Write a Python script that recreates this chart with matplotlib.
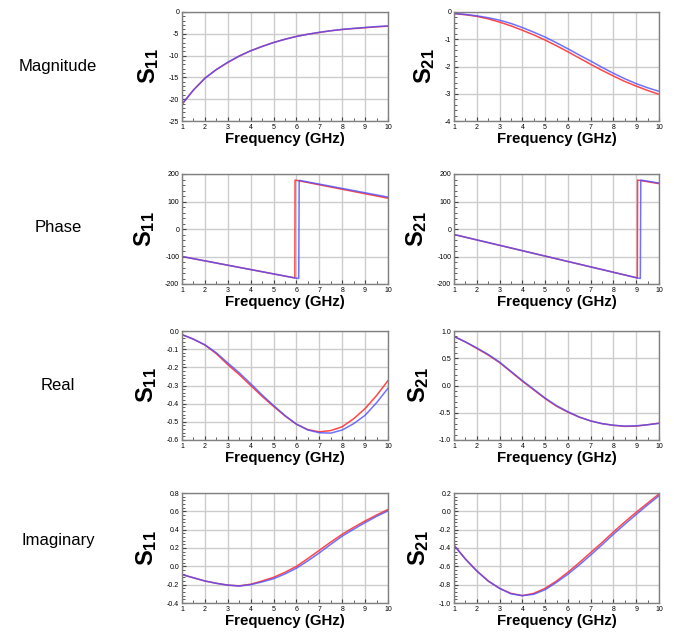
# S-parameters of a line: measured (red) vs model (blue), 4 rows x 2 columns

import numpy as np
import matplotlib.pyplot as plt
from matplotlib.ticker import MultipleLocator, AutoMinorLocator

plt.rcParams['font.family'] = ['Liberation Sans', 'DejaVu Sans']
plt.rcParams['mathtext.fontset'] = 'custom'
plt.rcParams['mathtext.rm'] = 'Liberation Sans'
plt.rcParams['mathtext.bf'] = 'Liberation Sans:bold'
plt.rcParams['axes.unicode_minus'] = False

# frequency grid for the smooth curves (GHz)
freq = [1.0, 1.5, 2.0, 2.5, 3.0, 3.5, 4.0, 4.5, 5.0, 5.5,
        6.0, 6.5, 7.0, 7.5, 8.0, 8.5, 9.0, 9.5, 10.0]

# magnitude (dB)
mag_s11_red = [-21.2, -17.9, -15.2, -13.2, -11.6, -10.1, -8.9, -7.9, -7.0, -6.25,
               -5.6, -5.1, -4.7, -4.3, -4.0, -3.8, -3.6, -3.4, -3.25]
mag_s11_blue = [-21.1, -17.9, -15.2, -13.2, -11.5, -10.1, -8.9, -7.9, -7.0, -6.25,
                -5.6, -5.1, -4.65, -4.3, -4.0, -3.75, -3.55, -3.35, -3.2]
mag_s21_red = [-0.06, -0.1, -0.16, -0.25, -0.37, -0.51, -0.67, -0.84, -1.03, -1.24,
               -1.46, -1.69, -1.92, -2.14, -2.35, -2.55, -2.72, -2.88, -3.02]
mag_s21_blue = [-0.05, -0.09, -0.14, -0.21, -0.3, -0.42, -0.57, -0.74, -0.92, -1.13,
                -1.35, -1.58, -1.8, -2.03, -2.25, -2.45, -2.63, -2.78, -2.91]

# phase (deg), straight segments with a wrap
ph_s11_red_f = [1.0, 5.93, 5.94, 10.0]
ph_s11_red = [-100, -178, 178, 112]
ph_s11_blue_f = [1.0, 5.93, 6.1, 6.12, 10.0]
ph_s11_blue = [-100, -178, -180, 177, 116]
ph_s21_red_f = [1.0, 9.05, 9.06, 10.0]
ph_s21_red = [-20, -178, 178, 165]
ph_s21_blue_f = [1.0, 9.05, 9.18, 9.2, 10.0]
ph_s21_blue = [-20, -178, -180, 178, 167]

# real part
re_s11_red = [-0.02, -0.045, -0.077, -0.125, -0.185, -0.24, -0.30, -0.36, -0.415, -0.468,
              -0.513, -0.543, -0.555, -0.548, -0.527, -0.483, -0.427, -0.355, -0.273]
re_s11_blue = [-0.02, -0.045, -0.076, -0.12, -0.176, -0.23, -0.29, -0.352, -0.41, -0.465,
               -0.513, -0.545, -0.56, -0.562, -0.545, -0.51, -0.464, -0.395, -0.315]
re_s21_red = [0.90, 0.80, 0.68, 0.56, 0.42, 0.25, 0.08, -0.08, -0.24, -0.38,
              -0.49, -0.58, -0.65, -0.70, -0.73, -0.75, -0.745, -0.72, -0.69]
re_s21_blue = [0.90, 0.80, 0.69, 0.57, 0.43, 0.26, 0.09, -0.07, -0.23, -0.37,
               -0.48, -0.58, -0.65, -0.70, -0.73, -0.745, -0.74, -0.72, -0.695]

# imaginary part
im_s11_red = [-0.09, -0.125, -0.16, -0.185, -0.205, -0.213, -0.195, -0.16, -0.12, -0.065,
              0.0, 0.085, 0.175, 0.265, 0.35, 0.425, 0.495, 0.56, 0.62]
im_s11_blue = [-0.09, -0.125, -0.16, -0.185, -0.205, -0.215, -0.2, -0.17, -0.135, -0.083,
               -0.02, 0.06, 0.147, 0.24, 0.33, 0.405, 0.477, 0.545, 0.605]
im_s21_red = [-0.37, -0.52, -0.65, -0.76, -0.84, -0.895, -0.92, -0.895, -0.84, -0.76,
              -0.665, -0.56, -0.45, -0.34, -0.225, -0.115, -0.01, 0.09, 0.19]
im_s21_blue = [-0.37, -0.52, -0.65, -0.76, -0.84, -0.9, -0.92, -0.905, -0.855, -0.775,
               -0.686, -0.585, -0.477, -0.365, -0.25, -0.14, -0.034, 0.07, 0.17]

row_names = ['Magnitude', 'Phase', 'Real', 'Imaginary']

# (x_red, y_red, x_blue, y_blue, ymin, ymax, ystep, label)
panels = [
    [(freq, mag_s11_red, freq, mag_s11_blue, -25, 0, 5, '11'),
     (freq, mag_s21_red, freq, mag_s21_blue, -4, 0, 1, '21')],
    [(ph_s11_red_f, ph_s11_red, ph_s11_blue_f, ph_s11_blue, -200, 200, 100, '11'),
     (ph_s21_red_f, ph_s21_red, ph_s21_blue_f, ph_s21_blue, -200, 200, 100, '21')],
    [(freq, re_s11_red, freq, re_s11_blue, -0.6, 0.0, 0.1, '11'),
     (freq, re_s21_red, freq, re_s21_blue, -1.0, 1.0, 0.5, '21')],
    [(freq, im_s11_red, freq, im_s11_blue, -0.4, 0.8, 0.2, '11'),
     (freq, im_s21_red, freq, im_s21_blue, -1.0, 0.2, 0.2, '21')],
]

W, H = 674, 637
fig = plt.figure(figsize=(W / 100, H / 100), dpi=100)

col_x = [(182, 388), (454, 659)]
row_y = [(12, 121), (174, 284), (331, 440), (493, 603)]
name_y = [66, 228, 385, 541]

for r in range(4):
    y0, y1 = row_y[r]
    fig.text(58 / W, 1 - name_y[r] / H, row_names[r],
             ha='center', va='center', fontsize=12)
    for c in range(2):
        x0, x1 = col_x[c]
        ax = fig.add_axes([x0 / W, 1 - y1 / H, (x1 - x0) / W, (y1 - y0) / H])
        xr, yr, xb, yb, ymin, ymax, ystep, sub = panels[r][c]
        ax.plot(xr, yr, color='#ff3333', lw=1.1, alpha=0.9)
        ax.plot(xb, yb, color='#4d4dff', lw=1.1, alpha=0.8)
        ax.set_xlim(1, 10)
        ax.set_ylim(ymin, ymax)
        ax.xaxis.set_major_locator(MultipleLocator(1))
        ax.xaxis.set_minor_locator(AutoMinorLocator(2))
        ax.yaxis.set_major_locator(MultipleLocator(ystep))
        ax.yaxis.set_minor_locator(AutoMinorLocator(5))
        if ystep < 1:
            ax.yaxis.set_major_formatter(lambda v, p: '%.1f' % v)
        ax.grid(True, which='major', color='#cccccc', lw=1.0)
        ax.set_axisbelow(True)
        for s in ax.spines.values():
            s.set_color('#808080')
            s.set_linewidth(1.0)
        ax.tick_params(which='both', direction='in', labelsize=5, pad=2,
                       color='#404040')
        ax.tick_params(which='major', length=3)
        ax.tick_params(which='minor', length=2)
        ax.set_xlabel('Frequency (GHz)', fontsize=10.8, fontweight='bold', labelpad=1)
        ax.set_ylabel(r'$\mathbf{S_{%s}}$' % sub, fontsize=17, labelpad=6)

plt.savefig('out.png', dpi=100)
